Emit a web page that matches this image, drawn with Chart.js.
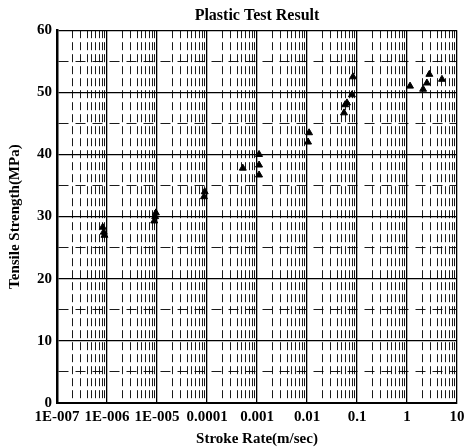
<!DOCTYPE html>
<html><head><meta charset="utf-8">
<script src="https://cdn.jsdelivr.net/npm/chart.js@4"></script>
<style>html,body{margin:0;padding:0;background:#fff}</style>
</head><body>
<canvas id="c" width="465" height="447"></canvas>
<script>
// Data
const strokeRate = [8.2e-7, 8.6e-7, 8.9e-7, 8.8e-6, 9.2e-6, 9.5e-6, 8.7e-5, 9.0e-5, 5.2e-4, 1.1e-3, 1.1e-3, 1.1e-3, 1.05e-2, 1.1e-2, 0.055, 0.058, 0.063, 0.079, 0.083, 1.15, 2.1, 2.5, 2.8, 5.0];
const tensileStrength = [28.3, 27.5, 27.0, 29.3, 30.0, 30.6, 33.2, 34.0, 37.8, 40.0, 38.3, 36.7, 42.0, 43.5, 46.7, 48.0, 48.3, 49.6, 52.5, 51.0, 50.5, 51.5, 52.9, 52.1];
const xDecades = [1e-7, 1e-6, 1e-5, 1e-4, 1e-3, 1e-2, 1e-1, 1, 10];
const xTickLabels = ["1E-007", "1E-006", "1E-005", "0.0001", "0.001", "0.01", "0.1", "1", "10"];
const yTickLabels = ["0", "10", "20", "30", "40", "50", "60"];

const xTickValues = [];
xDecades.forEach((d, i) => {
  if (i < xDecades.length - 1) { for (let k = 1; k <= 9; k++) xTickValues.push(+(d * k).toPrecision(6)); }
  else xTickValues.push(d);
});
const decadeIndex = v => xDecades.findIndex(d => Math.abs(d - v) / d < 1e-6);

Chart.defaults.font.family = "'Liberation Serif', 'DejaVu Serif', serif";
Chart.defaults.font.weight = 'bold';
Chart.defaults.color = '#000';

new Chart(document.getElementById('c'), {
  type: 'scatter',
  data: {
    datasets: [{
      data: strokeRate.map((x, i) => ({ x: x, y: tensileStrength[i] })),
      pointStyle: 'triangle',
      radius: 4,
      backgroundColor: '#000',
      borderColor: '#000',
      borderWidth: 1
    }]
  },
  options: {
    responsive: false,
    animation: false,
    devicePixelRatio: 1,
    layout: { padding: { left: 6, right: 8, top: 0, bottom: 0 } },
    plugins: {
      legend: { display: false },
      tooltip: { enabled: false },
      title: {
        display: true,
        text: 'Plastic Test Result',
        fullSize: false,
        font: { size: 16, weight: 'bold' },
        padding: { top: 6, bottom: 5 }
      }
    },
    scales: {
      x: {
        type: 'logarithmic',
        min: 1e-7,
        max: 10,
        afterBuildTicks: s => { s.ticks = xTickValues.map(v => ({ value: v, major: decadeIndex(v) >= 0 })); },
        afterFit: s => { s.paddingRight = 0; },
        ticks: {
          autoSkip: false,
          maxRotation: 0,
          padding: 7,
          font: { size: 15, weight: 'bold', lineHeight: 1 },
          callback: function (v) { const i = decadeIndex(v); return i >= 0 ? xTickLabels[i] : ''; }
        },
        grid: {
          color: '#000',
          drawTicks: false,
          lineWidth: c => (c.tick && decadeIndex(c.tick.value) < 0) ? 0.9 : 1.3
        },
        border: {
          display: true, color: '#000', width: 2,
          dash: c => (c.tick && decadeIndex(c.tick.value) < 0) ? [8, 4] : []
        },
        title: {
          display: true, text: 'Stroke Rate(m/sec)',
          font: { size: 15, weight: 'bold', lineHeight: 1 }, padding: { top: 0, bottom: 0 }
        }
      },
      y: {
        min: 0, max: 60,
        ticks: {
          stepSize: 5,
          padding: 5,
          font: { size: 15, weight: 'bold' },
          callback: v => (v % 10 === 0) ? yTickLabels[v / 10] : ''
        },
        grid: {
          color: '#000',
          drawTicks: false,
          lineWidth: c => (c.tick && c.tick.value % 10 !== 0) ? 0.9 : 1.3
        },
        border: {
          display: true, color: '#000', width: 2.5,
          dash: c => (c.tick && c.tick.value % 10 !== 0) ? [10, 7] : []
        },
        title: {
          display: true, text: 'Tensile Strength(MPa)',
          font: { size: 15, weight: 'bold' }, padding: { top: 0, bottom: 8 }
        }
      }
    }
  }
});
</script>
</body></html>
